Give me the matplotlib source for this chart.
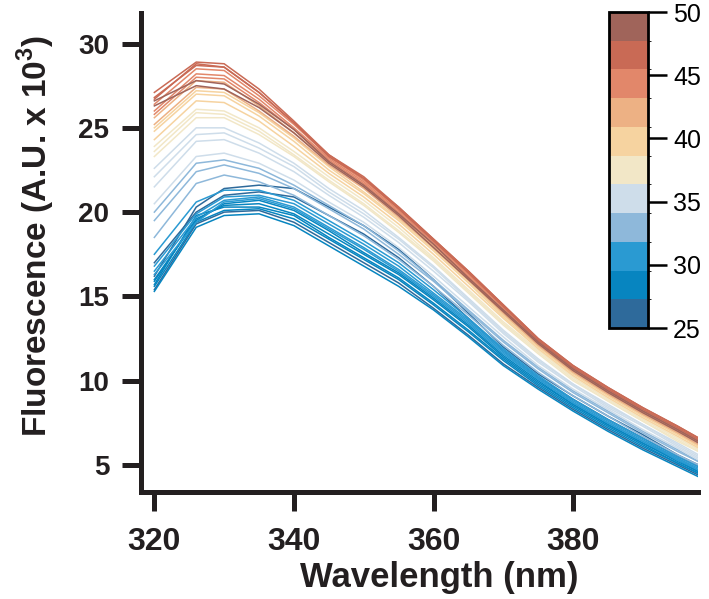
import matplotlib
matplotlib.use("Agg")
import matplotlib.pyplot as plt
from matplotlib.colors import ListedColormap, BoundaryNorm
import matplotlib.cm as cm
import numpy as np

plt.rcParams['font.family'] = ['Liberation Sans', 'DejaVu Sans']
plt.rcParams['mathtext.fontset'] = 'custom'
plt.rcParams['mathtext.rm'] = 'Liberation Sans'
plt.rcParams['mathtext.bf'] = 'Liberation Sans:bold'

# wavelength grid (nm)
wavelengths = [320, 326, 330, 335, 340, 345, 350, 355, 360, 365, 370, 375, 380, 385, 390, 395, 398]

# temperature of each spectrum (C)
temps = [25.5, 26.5, 27.0, 27.5, 28.0, 28.5, 29.0, 29.5, 30.0, 30.5, 31.0, 31.5,
         32.0, 33.0, 33.5, 34.5, 35.5, 36.0, 36.2, 37.0, 37.5, 38.0, 39.0, 40.0,
         40.5, 41.5, 42.5, 43.5, 44.0, 45.0, 46.0, 46.5, 47.0, 48.5, 49.5]

# fluorescence (A.U. x 10^3), one row per temperature
fluorescence = [
    [16.2, 20.3, 21.4, 21.6, 21.4, 20.3, 19.2, 17.8, 16.0, 14.0, 12.0, 10.4, 9.1, 7.9, 6.8, 5.6, 5.0],
    [17.0, 20.0, 21.0, 21.2, 20.9, 19.8, 18.7, 17.3, 15.6, 13.7, 11.8, 10.2, 8.9, 7.7, 6.6, 5.5, 4.9],
    [15.4, 19.3, 20.0, 20.1, 19.4, 18.2, 17.0, 15.8, 14.3, 12.7, 11.0, 9.6, 8.3, 7.1, 6.0, 5.0, 4.4],
    [15.3, 19.1, 19.8, 19.9, 19.2, 18.0, 16.8, 15.6, 14.2, 12.6, 10.9, 9.5, 8.2, 7.0, 5.9, 4.9, 4.3],
    [15.6, 19.4, 20.1, 20.2, 19.6, 18.4, 17.2, 16.0, 14.5, 12.9, 11.2, 9.7, 8.4, 7.2, 6.1, 5.1, 4.5],
    [15.7, 19.8, 20.3, 20.3, 19.8, 18.5, 17.3, 16.1, 14.6, 13.0, 11.3, 9.8, 8.5, 7.3, 6.2, 5.1, 4.5],
    [15.9, 19.6, 20.4, 20.5, 19.9, 18.7, 17.5, 16.3, 14.8, 13.2, 11.4, 9.9, 8.6, 7.4, 6.3, 5.2, 4.6],
    [16.0, 19.5, 20.5, 20.7, 20.1, 18.9, 17.6, 16.4, 14.9, 13.3, 11.5, 10.0, 8.6, 7.4, 6.3, 5.3, 4.6],
    [16.3, 19.4, 20.6, 20.8, 20.2, 19.0, 17.8, 16.5, 15.0, 13.4, 11.6, 10.1, 8.7, 7.5, 6.4, 5.3, 4.7],
    [16.5, 19.7, 20.7, 20.9, 20.3, 19.1, 17.9, 16.6, 15.1, 13.5, 11.7, 10.1, 8.7, 7.5, 6.4, 5.4, 4.7],
    [16.8, 19.9, 20.9, 21.0, 20.5, 19.3, 18.1, 16.8, 15.2, 13.6, 11.8, 10.2, 8.8, 7.6, 6.5, 5.4, 4.8],
    [17.5, 20.6, 21.3, 21.3, 20.7, 19.5, 18.3, 17.0, 15.4, 13.7, 11.9, 10.3, 8.9, 7.7, 6.6, 5.5, 4.9],
    [18.5, 21.7, 22.2, 21.8, 21.0, 19.8, 18.6, 17.2, 15.6, 13.9, 12.1, 10.5, 9.1, 7.9, 6.7, 5.6, 5.0],
    [19.5, 22.4, 22.8, 22.3, 21.4, 20.2, 19.0, 17.5, 15.9, 14.1, 12.3, 10.7, 9.3, 8.1, 6.9, 5.8, 5.2],
    [20.0, 22.9, 23.1, 22.6, 21.6, 20.4, 19.2, 17.7, 16.0, 14.2, 12.4, 10.8, 9.4, 8.2, 7.0, 5.9, 5.2],
    [20.5, 23.3, 23.5, 22.9, 21.9, 20.6, 19.4, 17.9, 16.2, 14.4, 12.6, 10.9, 9.5, 8.3, 7.1, 6.0, 5.3],
    [21.5, 24.2, 24.3, 23.5, 22.4, 21.0, 19.7, 18.2, 16.5, 14.7, 12.8, 11.1, 9.7, 8.4, 7.3, 6.1, 5.4],
    [22.6, 25.0, 25.0, 24.1, 22.9, 21.4, 20.1, 18.5, 16.8, 14.9, 13.0, 11.3, 9.8, 8.6, 7.4, 6.3, 5.6],
    [22.1, 24.6, 24.7, 23.8, 22.7, 21.2, 19.9, 18.4, 16.7, 14.8, 12.9, 11.2, 9.8, 8.5, 7.4, 6.2, 5.5],
    [23.3, 25.6, 25.6, 24.6, 23.3, 21.8, 20.4, 18.8, 17.1, 15.2, 13.3, 11.6, 10.0, 8.8, 7.6, 6.4, 5.8],
    [23.6, 25.9, 25.8, 24.8, 23.4, 21.9, 20.5, 18.9, 17.2, 15.3, 13.4, 11.7, 10.1, 8.8, 7.6, 6.5, 5.8],
    [23.9, 26.1, 26.0, 25.0, 23.6, 22.1, 20.7, 19.1, 17.3, 15.4, 13.5, 11.8, 10.2, 8.9, 7.7, 6.6, 5.9],
    [24.3, 26.6, 26.5, 25.4, 23.9, 22.3, 20.9, 19.3, 17.5, 15.6, 13.7, 11.9, 10.3, 9.0, 7.8, 6.7, 6.0],
    [24.8, 27.0, 26.9, 25.7, 24.2, 22.5, 21.1, 19.5, 17.7, 15.8, 13.8, 12.0, 10.4, 9.1, 7.9, 6.8, 6.1],
    [25.0, 27.2, 27.1, 25.9, 24.4, 22.7, 21.2, 19.6, 17.8, 15.9, 13.9, 12.1, 10.5, 9.2, 8.0, 6.9, 6.1],
    [25.2, 27.4, 27.3, 26.0, 24.5, 22.8, 21.4, 19.7, 17.9, 16.0, 14.0, 12.1, 10.5, 9.2, 8.0, 6.9, 6.2],
    [25.6, 27.8, 27.7, 26.3, 24.7, 23.0, 21.6, 19.9, 18.0, 16.1, 14.1, 12.2, 10.6, 9.3, 8.1, 7.0, 6.3],
    [25.8, 28.0, 27.9, 26.5, 24.9, 23.1, 21.7, 20.0, 18.1, 16.2, 14.2, 12.3, 10.7, 9.4, 8.2, 7.1, 6.4],
    [26.0, 28.2, 28.1, 26.7, 25.0, 23.2, 21.8, 20.1, 18.2, 16.3, 14.3, 12.3, 10.7, 9.4, 8.2, 7.1, 6.4],
    [26.4, 28.5, 28.4, 26.9, 25.2, 23.3, 21.9, 20.2, 18.3, 16.4, 14.4, 12.4, 10.8, 9.5, 8.3, 7.2, 6.5],
    [26.7, 28.8, 28.6, 27.1, 25.3, 23.4, 22.0, 20.3, 18.4, 16.5, 14.5, 12.5, 10.9, 9.6, 8.4, 7.3, 6.6],
    [27.1, 28.9, 28.8, 27.3, 25.4, 23.4, 22.1, 20.3, 18.4, 16.5, 14.5, 12.5, 10.9, 9.6, 8.4, 7.3, 6.6],
    [26.8, 28.7, 28.6, 27.1, 25.3, 23.3, 22.0, 20.2, 18.3, 16.4, 14.4, 12.4, 10.8, 9.5, 8.3, 7.2, 6.5],
    [26.6, 27.8, 27.6, 26.4, 24.9, 23.0, 21.6, 19.9, 18.1, 16.1, 14.2, 12.3, 10.7, 9.4, 8.2, 7.1, 6.4],
    [26.3, 27.5, 27.3, 26.2, 24.7, 22.9, 21.5, 19.8, 17.9, 16.0, 14.1, 12.2, 10.6, 9.3, 8.1, 7.0, 6.3],
]

band_colors = ['#2E6A9B', '#0785C0', '#2A9AD2', '#8EB8DA', '#CEDDEA', '#F2E7C7',
               '#F6D3A0', '#EDB184', '#E2876A', '#C96A55', '#A0645A']
cbar_ticks = [25, 30, 35, 40, 45, 50]

cmap = ListedColormap(band_colors)
norm = BoundaryNorm(np.linspace(25, 50, len(band_colors) + 1), cmap.N)

fig = plt.figure(figsize=(7.09, 5.99), dpi=100)
ax = fig.add_axes([0.199, 0.1786, 0.7855, 0.7994])

for t, f in zip(temps, fluorescence):
    ax.plot(wavelengths, f, color=cmap(norm(t)), lw=1.1)

ax.set_xlim(318.1, 397.9)
ax.set_ylim(3.4, 31.8)
ax.set_xticks([320, 340, 360, 380])
ax.set_yticks([5, 10, 15, 20, 25, 30])

for s in ['top', 'right']:
    ax.spines[s].set_visible(False)
for s in ['left', 'bottom']:
    ax.spines[s].set_linewidth(3.6)
    ax.spines[s].set_color('#231F20')
    ax.spines[s].set_capstyle('projecting')

ax.tick_params(axis='both', length=14, width=3.6, color='#231F20')
ax.tick_params(axis='x', labelsize=23, pad=11)
ax.tick_params(axis='y', labelsize=20, pad=9)
for lab in ax.get_xticklabels() + ax.get_yticklabels():
    lab.set_fontweight('bold')
    lab.set_color('#231F20')

ax.set_xlabel('Wavelength (nm)', fontsize=25, fontweight='bold', color='#231F20')
ax.set_ylabel(r'Fluorescence (A.U. x 10$^{\mathbf{3}}$)', fontsize=24, fontweight='bold', color='#231F20')
ax.xaxis.set_label_coords(0.535, -0.145)
ax.yaxis.set_label_coords(-0.151, 0.534)

cax = fig.add_axes([0.859, 0.4524, 0.055, 0.5275])
sm = cm.ScalarMappable(norm=norm, cmap=cmap)
cb = fig.colorbar(sm, cax=cax, ticks=cbar_ticks)
cb.outline.set_linewidth(2)
cb.ax.tick_params(length=14, width=1.8, labelsize=18, pad=4)

fig.savefig('out.png', dpi=100)
